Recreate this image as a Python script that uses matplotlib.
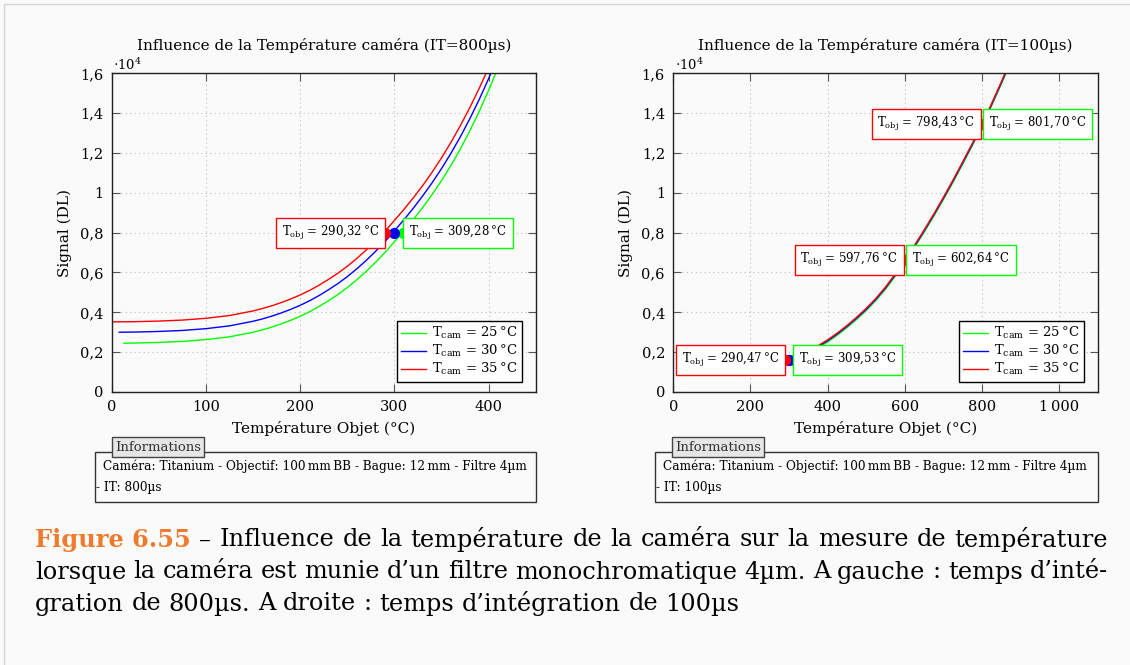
import matplotlib
matplotlib.use('Agg')
import matplotlib.pyplot as plt
from matplotlib.patches import Rectangle

plt.rcParams['font.family'] = ['DejaVu Serif']
plt.rcParams['mathtext.fontset'] = 'dejavuserif'

# --- data (signal in units of 10^4 DL) ---
# left: IT = 800 us
t_g_800 = [13, 25, 50, 75, 100, 125, 150, 160, 170, 180, 190, 200, 210, 220, 230, 240, 250,
           260, 270, 280, 290, 300, 310, 320, 330, 340, 350, 360, 370, 380, 390, 400, 410]
s_g_800 = [0.245, 0.246, 0.249, 0.254, 0.263, 0.277, 0.300, 0.312, 0.326, 0.342, 0.360, 0.380,
           0.403, 0.429, 0.458, 0.489, 0.524, 0.563, 0.605, 0.651, 0.700, 0.754, 0.808, 0.865,
           0.926, 0.991, 1.061, 1.137, 1.220, 1.310, 1.408, 1.514, 1.629]
t_b_800 = [8, 25, 50, 75, 100, 125, 150, 160, 170, 180, 190, 200, 210, 220, 230, 240, 250,
           260, 270, 280, 290, 300, 310, 320, 330, 340, 350, 360, 370, 380, 390, 400, 410]
s_b_800 = [0.300, 0.301, 0.304, 0.309, 0.318, 0.332, 0.355, 0.367, 0.381, 0.397, 0.415, 0.435,
           0.458, 0.484, 0.513, 0.544, 0.579, 0.618, 0.660, 0.706, 0.755, 0.809, 0.864, 0.922,
           0.984, 1.050, 1.121, 1.198, 1.281, 1.371, 1.468, 1.573, 1.686]
t_r_800 = [0, 25, 50, 75, 100, 125, 150, 160, 170, 180, 190, 200, 210, 220, 230, 240, 250,
           260, 270, 280, 290, 300, 310, 320, 330, 340, 350, 360, 370, 380, 390, 400, 410]
s_r_800 = [0.352, 0.353, 0.356, 0.361, 0.370, 0.384, 0.407, 0.419, 0.433, 0.449, 0.467, 0.487,
           0.510, 0.536, 0.565, 0.596, 0.631, 0.670, 0.712, 0.758, 0.807, 0.861, 0.916, 0.974,
           1.036, 1.103, 1.175, 1.253, 1.337, 1.427, 1.524, 1.628, 1.740]

# right: IT = 100 us
t_100 = [60, 100, 150, 200, 225, 250, 275, 300, 325, 350, 375, 400, 425, 450, 475, 500, 525,
         550, 575, 600, 625, 650, 675, 700, 725, 750, 775, 800, 825, 850, 875]
s_r_100 = [0.096, 0.097, 0.102, 0.112, 0.121, 0.132, 0.146, 0.162, 0.182, 0.205, 0.232, 0.262,
           0.296, 0.334, 0.375, 0.420, 0.470, 0.527, 0.592, 0.663, 0.736, 0.813, 0.893, 0.977,
           1.064, 1.155, 1.248, 1.345, 1.448, 1.556, 1.670]
s_b_100 = [0.091, 0.092, 0.097, 0.107, 0.116, 0.127, 0.141, 0.157, 0.177, 0.200, 0.227, 0.257,
           0.291, 0.329, 0.370, 0.415, 0.465, 0.522, 0.587, 0.658, 0.731, 0.808, 0.888, 0.972,
           1.059, 1.150, 1.243, 1.340, 1.443, 1.551, 1.665]
s_g_100 = [0.085, 0.086, 0.091, 0.101, 0.110, 0.121, 0.135, 0.151, 0.171, 0.194, 0.221, 0.251,
           0.285, 0.323, 0.364, 0.409, 0.459, 0.516, 0.581, 0.652, 0.725, 0.802, 0.882, 0.966,
           1.053, 1.144, 1.237, 1.334, 1.437, 1.545, 1.659]

# marked points (red, blue, green) and their signal level
pts_800 = [([290.32, 300.0, 309.28], 0.80)]
pts_100 = [([290.47, 300.0, 309.53], 0.162),
           ([597.76, 600.0, 602.64], 0.663),
           ([798.43, 800.0, 801.70], 1.345)]

yticks = [0, 0.2, 0.4, 0.6, 0.8, 1.0, 1.2, 1.4, 1.6]
ytick_labels = ['0', '0,2', '0,4', '0,6', '0,8', '1', '1,2', '1,4', '1,6']
legend_labels = [r'T$_{\mathrm{cam}}$ = 25' + '\u2009°C', r'T$_{\mathrm{cam}}$ = 30' + '\u2009°C',
                 r'T$_{\mathrm{cam}}$ = 35' + '\u2009°C']

GREEN, BLUE, RED = '#00ff00', '#0000ff', '#ff0000'
BG = '#fafafa'
W, H = 1130, 665

fig = plt.figure(figsize=(11.3, 6.65), dpi=100, facecolor=BG)
fig.patches.append(Rectangle((4 / W, -0.1), 1.2, 1.1 - 4 / H, transform=fig.transFigure,
                             fc='none', ec='#d4d4d4', lw=1.0))

ax1 = fig.add_axes([111.7 / W, 1 - 392 / H, 424 / W, 318.7 / H])
ax2 = fig.add_axes([673.3 / W, 1 - 392 / H, 424.4 / W, 318.7 / H])


def style(ax, xmax, xticks, xlabels, it):
    ax.set_facecolor(BG)
    ax.set_xlim(0, xmax)
    ax.set_ylim(0, 1.6)
    ax.set_xticks(xticks)
    ax.set_xticklabels(xlabels)
    ax.set_yticks(yticks)
    ax.set_yticklabels(ytick_labels)
    ax.tick_params(direction='in', length=5.5, width=0.8, color='#555555', top=True, right=True,
                   labelsize=10.5, pad=6)
    ax.grid(True, linestyle=(0, (1, 3)), color='#bbbbbb', linewidth=0.8)
    for sp in ax.spines.values():
        sp.set_linewidth(1.0)
        sp.set_color('#222222')
    ax.set_xlabel('Température Objet (°C)', fontsize=11, labelpad=5)
    ax.set_ylabel('Signal (DL)', fontsize=11, labelpad=6)
    ax.set_title(f'Influence de la Température caméra (IT={it}µs)', fontsize=11, pad=17)
    ax.text(0.003, 1.0, r'$\cdot10^4$', transform=ax.transAxes, ha='left', va='bottom', fontsize=9.5)


def label(ax, x, y, val, color, side):
    txt = r'T$_{\mathrm{obj}}$ = ' + val + '\u2009°C'
    off = -4.25 if side == 'left' else 4.25
    ax.annotate(txt, xy=(x, y), xytext=(off, 0), textcoords='offset points',
                ha='right' if side == 'left' else 'left', va='center', fontsize=8.5, zorder=6,
                bbox=dict(boxstyle='square,pad=0.5', fc='white', ec=color, lw=1.0))


style(ax1, 450, [0, 100, 200, 300, 400], ['0', '100', '200', '300', '400'], 800)
style(ax2, 1100, [0, 200, 400, 600, 800, 1000], ['0', '200', '400', '600', '800', '1\u2009000'], 100)

ax1.plot(t_g_800, s_g_800, color=GREEN, lw=1.0, label=legend_labels[0])
ax1.plot(t_b_800, s_b_800, color=BLUE, lw=1.0, label=legend_labels[1])
ax1.plot(t_r_800, s_r_800, color=RED, lw=1.0, label=legend_labels[2])

ax2.plot(t_100, s_g_100, color=GREEN, lw=1.0, label=legend_labels[0])
ax2.plot(t_100, s_b_100, color=BLUE, lw=1.0, label=legend_labels[1])
ax2.plot(t_100, s_r_100, color=RED, lw=1.0, label=legend_labels[2])

for ax, pts in ((ax1, pts_800), (ax2, pts_100)):
    for xs, y in pts:
        ax.plot(xs[2], y, 'o', color=GREEN, ms=7, zorder=4)
        ax.plot(xs[1], y, 'o', color=BLUE, ms=7, zorder=4)
        ax.plot(xs[0], y, 'o', color=RED, ms=7, zorder=5)
        label(ax, xs[0], y, f'{xs[0]:.2f}'.replace('.', ','), RED, 'left')
        label(ax, xs[2], y, f'{xs[2]:.2f}'.replace('.', ','), GREEN, 'right')
    leg = ax.legend(loc='lower right', bbox_to_anchor=(1 - 13.5 / 424, 10 / 318.7), borderaxespad=0,
                    fontsize=9.5, fancybox=False, framealpha=1, edgecolor='black',
                    handlelength=1.9, handletextpad=0.4, labelspacing=0.15, borderpad=0.35)
    leg.get_frame().set_linewidth(1.0)
    leg.set_zorder(7)


# information boxes
def info(x0, x1, it):
    fig.patches.append(Rectangle((x0 / W, 1 - 502 / H), (x1 - x0) / W, 50 / H, transform=fig.transFigure,
                                 fc=BG, ec='#333333', lw=1.0))
    fig.patches.append(Rectangle(((x0 + 17) / W, 1 - 457 / H), 92 / W, 20 / H, transform=fig.transFigure,
                                 fc='#e6e6e6', ec='#444444', lw=1.0))
    fig.text((x0 + 63) / W, 1 - 447.5 / H, 'Informations', ha='center', va='center', fontsize=9.5,
             color='#333333')
    fig.text((x0 + 8) / W, 1 - 466 / H,
             'Caméra: Titanium - Objectif: 100\u2009mm\u2009BB - Bague: 12\u2009mm - Filtre 4µm',
             ha='left', va='center', fontsize=8.7)
    fig.text((x0 + 1) / W, 1 - 487 / H, f'- IT: {it}µs', ha='left', va='center', fontsize=8.7)


info(95, 536, 800)
info(655, 1098, 100)

# caption, justified between x=35 and x=1108 px
CAP_FS = 17.3
cap_lines = [
    ('Figure 6.55 – Influence de la température de la caméra sur la mesure de température', True),
    ('lorsque la caméra est munie d’un filtre monochromatique 4µm. A gauche : temps d’inté-', True),
    ('gration de 800µs. A droite : temps d’intégration de 100µs', False),
]
cap_y = [540, 572, 604]

renderer = fig.canvas.get_renderer()
for (line, justify), yp in zip(cap_lines, cap_y):
    words = line.split(' ')
    if line.startswith('Figure'):
        words = ['Figure\u00a06.55'] + words[2:]
    arts = []
    for w in words:
        if w.startswith('Figure'):
            t = fig.text(0, 1 - yp / H, w.replace('\u00a0', ' '), fontsize=CAP_FS, color='#f07a2c',
                         fontweight='bold', va='center', ha='left')
        else:
            t = fig.text(0, 1 - yp / H, w, fontsize=CAP_FS, va='center', ha='left')
        arts.append(t)
    widths = [a.get_window_extent(renderer).width for a in arts]
    space = fig.text(0, 0, 'a b', fontsize=CAP_FS).get_window_extent(renderer).width - \
        fig.text(0, 0, 'ab', fontsize=CAP_FS).get_window_extent(renderer).width
    fig.texts[-2:] = []
    gap = (1108 - 35 - sum(widths)) / (len(words) - 1) if justify else space
    x = 35
    for a, wd in zip(arts, widths):
        a.set_x(x / W)
        x += wd + gap

fig.savefig('out.png', dpi=100, facecolor=BG)
